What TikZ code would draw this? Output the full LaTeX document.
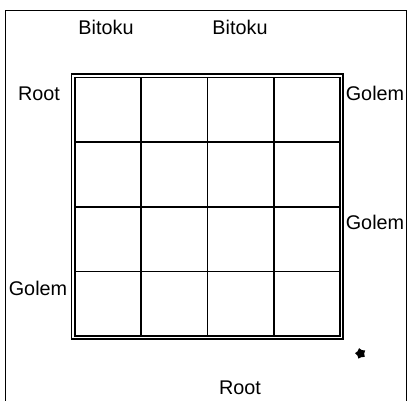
\documentclass[tikz,border=0pt]{standalone}
\usepackage{fontspec}
\setmainfont{Liberation Sans}
\usetikzlibrary{shapes.geometric}
\tikzset{
  plabel/.style={inner sep=0pt, anchor=base, font=\fontsize{19.8}{22}\selectfont},
  boardline/.style={line width=1.3pt, black},
  gridline/.style={line width=1.7pt, black}
}

\begin{document}
\begin{tikzpicture}[x=1pt, y=-1pt]
  \useasboundingbox (0,0) rectangle (408,400);
  % frame round the page
  \draw[line width=1.4pt] (5.5,405) |- (406.5,10.5) -- (406.5,405);
  % board, double border and 4x4 cells
  \draw[boardline] (71.5,74) rectangle (343,339);
  \draw[boardline] (75,77.5) rectangle (340,336);
  \foreach \i in {1,2,3} {
    \draw[gridline] ({75+66.25*\i},77.5) -- ({75+66.25*\i},336);
    \draw[gridline] (75,{77.5+64.625*\i}) -- (340,{77.5+64.625*\i});
  }
  \node[plabel] (bitokuA) at (106,34.3) {Bitoku};
  \node[plabel] (bitokuB) at (240,34.3) {Bitoku};
  \node[plabel] (rootW) at (39,100.5) {Root};
  \node[plabel] (golemE1) at (375,100.5) {Golem};
  \node[plabel] (golemE2) at (375,229) {Golem};
  \node[plabel] (golemW) at (38,295) {Golem};
  \node[plabel] (rootS) at (240,394.3) {Root};
  \node[star, star points=5, fill=black, inner sep=0pt, minimum size=11pt, rotate=15] (mark) at (360.5,353.5) {};
\end{tikzpicture}
\end{document}
